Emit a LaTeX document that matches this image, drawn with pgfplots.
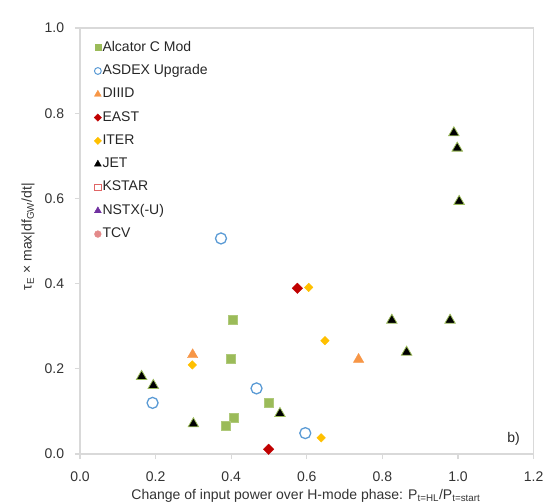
\documentclass[border=0pt]{standalone}
\usepackage{pgfplots}
\pgfplotsset{compat=1.18}
\usepackage{fontspec}
\setmainfont{Liberation Sans}

\definecolor{cmodgreen}{HTML}{9BBB59}
\definecolor{asdexblue}{HTML}{5B9BD5}
\definecolor{diiidorange}{HTML}{F79646}
\definecolor{eastred}{HTML}{C00000}
\definecolor{itergold}{HTML}{FFC000}
\definecolor{kstarred}{HTML}{E06666}
\definecolor{nstxpurple}{HTML}{7030A0}
\definecolor{tcvpink}{HTML}{E38A8A}
\definecolor{axisgrey}{HTML}{D9D9D9}

\begin{document}
\fontsize{14bp}{16bp}\selectfont
\begin{tikzpicture}
\begin{axis}[
  scale only axis,
  width=453.6bp, height=426bp,
  xmin=0, xmax=1.2, ymin=0, ymax=1,
  xtick={0,0.2,...,1.2}, ytick={0,0.2,...,1.0},
  /pgf/number format/.cd, fixed, fixed zerofill, precision=1, assume math mode=true,
  /pgfplots/.cd,
  axis line style={axisgrey, line width=1.2bp},
  tick style={axisgrey, line width=1.2bp},
  tick align=outside, major tick length=5bp,
  xtick pos=bottom, ytick pos=left,
  ticklabel style={font=\fontsize{14bp}{16bp}\selectfont, text=black!80},
  xticklabel style={yshift=-8bp},
  yticklabel style={xshift=-6bp},
  xlabel={Change of input power over H-mode phase: P\textsubscript{t=HL}/P\textsubscript{t=start}},
  ylabel={τ\textsubscript{E} × max|df\textsubscript{GW}/dt|},
  label style={font=\fontsize{14bp}{16bp}\selectfont, text=black!80},
  xlabel style={at={(axis description cs:0.498,0)}, anchor=base, yshift=-45bp},
  ylabel style={at={(axis description cs:-0.1146,0.51)}, anchor=center},
  legend style={draw=none, fill=none, at={(rel axis cs:0,1)}, anchor=north west,
    xshift=11bp, yshift=-10bp, font=\fontsize{14bp}{16bp}\selectfont,
    nodes={text height=10bp, text depth=3bp, inner sep=1bp, text=black!85},
    row sep=8.3bp},
  legend cell align=left,
  legend image code/.code={\draw[#1] plot coordinates {(3bp,0bp)};},
]
% Alcator C Mod
\addplot[only marks, mark=square*, mark size=4.5bp, draw=cmodgreen!80!white, fill=cmodgreen, forget plot]
  coordinates {(0.404,0.316) (0.399,0.223) (0.499,0.120) (0.406,0.086) (0.385,0.066)};
% ASDEX Upgrade
\addplot[only marks, mark=o, mark size=5.5bp, draw=asdexblue, line width=1.3bp, forget plot]
  coordinates {(0.373,0.506) (0.192,0.120) (0.467,0.154) (0.596,0.049)};
% DIII-D
\addplot[only marks, mark=triangle*, mark size=6bp, draw=diiidorange, fill=diiidorange, forget plot]
  coordinates {(0.298,0.233) (0.737,0.222)};
% EAST (diamonds drawn as squares turned by 45 degrees)
\addplot[only marks, mark=square*, mark size=3.7bp, mark options={rotate=45}, draw=eastred, fill=eastred, forget plot]
  coordinates {(0.575,0.389) (0.499,0.011)};
% ITER
\addplot[only marks, mark=square*, mark size=3bp, mark options={rotate=45}, draw=itergold, fill=itergold, forget plot]
  coordinates {(0.297,0.209) (0.605,0.391) (0.648,0.266) (0.638,0.038)};
% JET
\addplot[only marks, mark=triangle*, mark size=6bp, draw=cmodgreen, fill=black, line width=0.8bp, forget plot]
  coordinates {(0.163,0.182) (0.194,0.161) (0.300,0.071) (0.529,0.095)
               (0.989,0.754) (0.998,0.718) (1.003,0.593)
               (0.825,0.314) (0.979,0.314) (0.864,0.239)};

% legend entries
\addlegendimage{only marks, mark=square*, mark size=3bp, draw=cmodgreen, fill=cmodgreen}
\addlegendentry{Alcator C Mod}
\addlegendimage{only marks, mark=o, mark size=3.4bp, draw=asdexblue, line width=1bp}
\addlegendentry{ASDEX Upgrade}
\addlegendimage{only marks, mark=triangle*, mark size=4bp, draw=diiidorange, fill=diiidorange}
\addlegendentry{DIIID}
\addlegendimage{only marks, mark=square*, mark size=2.6bp, mark options={rotate=45}, draw=eastred, fill=eastred}
\addlegendentry{EAST}
\addlegendimage{only marks, mark=square*, mark size=2.6bp, mark options={rotate=45}, draw=itergold, fill=itergold}
\addlegendentry{ITER}
\addlegendimage{only marks, mark=triangle*, mark size=4bp, draw=black, fill=black}
\addlegendentry{JET}
\addlegendimage{only marks, mark=square, mark size=3.2bp, draw=kstarred, line width=0.9bp}
\addlegendentry{KSTAR}
\addlegendimage{only marks, mark=triangle*, mark size=4bp, draw=nstxpurple, fill=nstxpurple}
\addlegendentry{NSTX(-U)}
\addlegendimage{only marks, mark=*, mark size=3.4bp, draw=tcvpink, fill=tcvpink}
\addlegendentry{TCV}

\node[anchor=base east, text=black!85, font=\fontsize{14bp}{16bp}\selectfont]
  at (rel axis cs:1,0) [xshift=-9bp, yshift=12bp] {b)};
\end{axis}
\pgfresetboundingbox
\useasboundingbox (-80bp,-50bp) rectangle (478bp,454bp);
\end{tikzpicture}
\end{document}
